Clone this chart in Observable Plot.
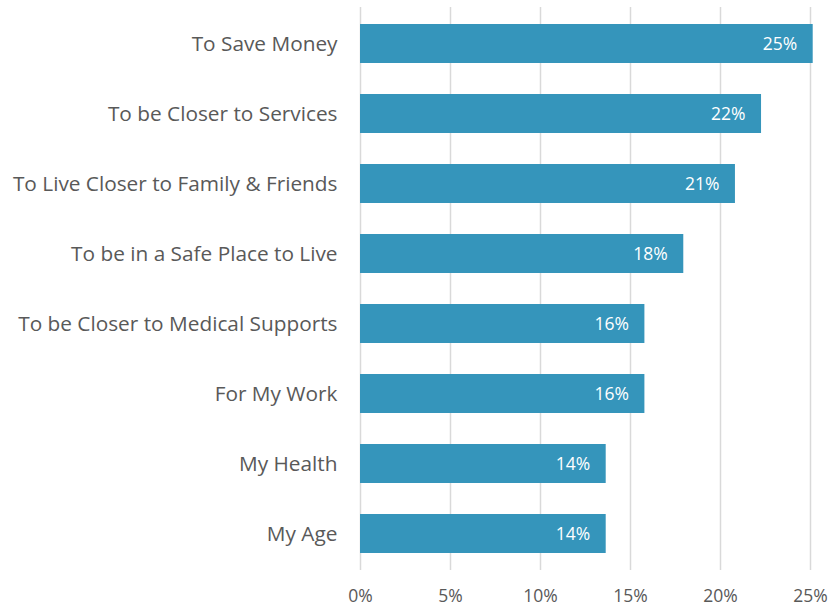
<!DOCTYPE html>
<html>
<head>
<meta charset="utf-8">
<script src="https://cdn.jsdelivr.net/npm/d3@7"></script>
<script src="https://cdn.jsdelivr.net/npm/@observablehq/plot@0.6"></script>
<style>
  html, body { margin: 0; padding: 0; background: #fff; }
  #chart svg { display: block; overflow: visible; }
</style>
</head>
<body>
<div id="chart"></div>
<script>
const categories = [
  "To Save Money",
  "To be Closer to Services",
  "To Live Closer to Family & Friends",
  "To be in a Safe Place to Live",
  "To be Closer to Medical Supports",
  "For My Work",
  "My Health",
  "My Age"
];
const values = [25.15, 22.28, 20.83, 17.96, 15.8, 15.8, 13.65, 13.65];
const valueLabels = ["25%", "22%", "21%", "18%", "16%", "16%", "14%", "14%"];
const xTicks = [0, 5, 10, 15, 20, 25];

const data = categories.map((c, i) => ({category: c, value: values[i], label: valueLabels[i]}));

const chart = Plot.plot({
  width: 830,
  height: 609,
  marginLeft: 360,
  marginRight: 20,
  marginTop: 7,
  marginBottom: 39,
  style: {fontFamily: "'Open Sans', sans-serif", color: "#595959", background: "#fff"},
  x: {domain: [0, 25], label: null},
  y: {domain: categories, paddingInner: 0.445, paddingOuter: 0.2225, label: null},
  marks: [
    Plot.gridX({ticks: xTicks, stroke: "#d9d9d9", strokeOpacity: 1, strokeWidth: 1.5}),
    Plot.barX(data, {x: "value", y: "category", fill: "#3595BB"}),
    Plot.text(data, {x: "value", y: "category", text: "label", fill: "white", textAnchor: "end", dx: -16, fontSize: 17.5}),
    Plot.axisY({tickSize: 0, tickPadding: 23, fontSize: 20.8, fill: "#595959", label: null}),
    Plot.axisX({ticks: xTicks, tickSize: 0, tickPadding: 19, fontSize: 17.5, tickFormat: d => d + "%", fill: "#595959", label: null})
  ]
});
document.getElementById("chart").append(chart);
</script>
</body>
</html>
